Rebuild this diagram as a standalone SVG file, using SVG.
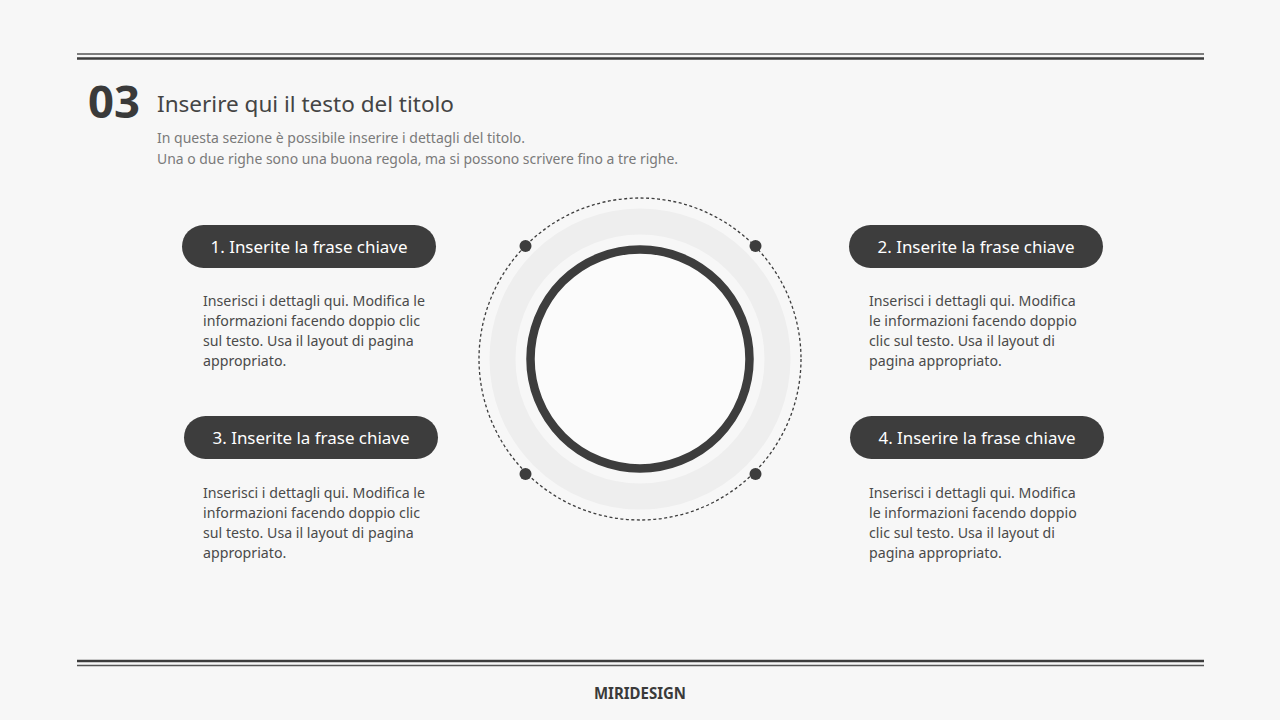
<svg xmlns="http://www.w3.org/2000/svg" width="1280" height="720" viewBox="0 0 1280 720">
<style>
.t{font-family:"Noto Sans","Liberation Sans",sans-serif}
.pill{fill:#3d3d3d}
.pt{font-family:"Noto Sans","Liberation Sans",sans-serif;font-size:16.5px;fill:#ffffff;text-anchor:middle}
.body{font-family:"Noto Sans","Liberation Sans",sans-serif;font-size:14.2px;fill:#4a4a4a}
.dot{fill:#3d3d3d}
</style>
<rect width="1280" height="720" fill="#f7f7f7"/>
<g id="frame">
<line x1="77" y1="54" x2="1204" y2="54" stroke="#555" stroke-width="1.5"/>
<line x1="77" y1="58.5" x2="1204" y2="58.5" stroke="#3c3c3c" stroke-width="2.5"/>
<line x1="77" y1="661" x2="1204" y2="661" stroke="#3c3c3c" stroke-width="2.5"/>
<line x1="77" y1="665.5" x2="1204" y2="665.5" stroke="#555" stroke-width="1.5"/>
</g>
<g id="header">
<text class="t" x="88" y="118" font-size="45" font-weight="bold" fill="#3a3a3a" textLength="52" lengthAdjust="spacingAndGlyphs">03</text>
<text class="t" x="157" y="112" font-size="22.5" fill="#444" textLength="297" lengthAdjust="spacingAndGlyphs">Inserire qui il testo del titolo</text>
<text class="t" x="157" y="143" font-size="14" fill="#7a7a7a" textLength="368" lengthAdjust="spacingAndGlyphs">In questa sezione è possibile inserire i dettagli del titolo.</text>
<text class="t" x="157" y="164" font-size="14" fill="#7a7a7a" textLength="521" lengthAdjust="spacingAndGlyphs">Una o due righe sono una buona regola, ma si possono scrivere fino a tre righe.</text>
</g>
<g id="center">
<circle cx="640" cy="359" r="137.5" fill="none" stroke="#eeeeee" stroke-width="26"/>
<circle cx="640" cy="359" r="161" fill="none" stroke="#3d3d3d" stroke-width="1.3" stroke-dasharray="3 2.5"/>
<circle cx="640" cy="359" r="109.5" fill="#fbfbfb" stroke="#3d3d3d" stroke-width="8.5"/>
</g>
<g id="connectors">
<circle class="dot" cx="525.5" cy="246" r="6"/>
<circle class="dot" cx="755.5" cy="246" r="6"/>
<circle class="dot" cx="525.5" cy="474" r="6"/>
<circle class="dot" cx="755.5" cy="474" r="6"/>
</g>
<g id="node1">
<rect class="pill" x="182" y="225" width="254" height="43" rx="21.5"/>
<text class="pt" x="309" y="252.5" textLength="197" lengthAdjust="spacingAndGlyphs">1. Inserite la frase chiave</text>
<text class="body" x="203" y="306">Inserisci i dettagli qui. Modifica le</text>
<text class="body" x="203" y="326">informazioni facendo doppio clic</text>
<text class="body" x="203" y="346">sul testo. Usa il layout di pagina</text>
<text class="body" x="203" y="366">appropriato.</text>
</g>
<g id="node2">
<rect class="pill" x="849" y="225" width="254" height="43" rx="21.5"/>
<text class="pt" x="976" y="252.5" textLength="197" lengthAdjust="spacingAndGlyphs">2. Inserite la frase chiave</text>
<text class="body" x="869" y="306">Inserisci i dettagli qui. Modifica</text>
<text class="body" x="869" y="326">le informazioni facendo doppio</text>
<text class="body" x="869" y="346">clic sul testo. Usa il layout di</text>
<text class="body" x="869" y="366">pagina appropriato.</text>
</g>
<g id="node3">
<rect class="pill" x="184" y="416" width="254" height="43" rx="21.5"/>
<text class="pt" x="311" y="443.5" textLength="197" lengthAdjust="spacingAndGlyphs">3. Inserite la frase chiave</text>
<text class="body" x="203" y="498">Inserisci i dettagli qui. Modifica le</text>
<text class="body" x="203" y="518">informazioni facendo doppio clic</text>
<text class="body" x="203" y="538">sul testo. Usa il layout di pagina</text>
<text class="body" x="203" y="558">appropriato.</text>
</g>
<g id="node4">
<rect class="pill" x="850" y="416" width="254" height="43" rx="21.5"/>
<text class="pt" x="977" y="443.5" textLength="197" lengthAdjust="spacingAndGlyphs">4. Inserire la frase chiave</text>
<text class="body" x="869" y="498">Inserisci i dettagli qui. Modifica</text>
<text class="body" x="869" y="518">le informazioni facendo doppio</text>
<text class="body" x="869" y="538">clic sul testo. Usa il layout di</text>
<text class="body" x="869" y="558">pagina appropriato.</text>
</g>
<g id="footer">
<text class="t" x="640" y="698.5" font-size="16.5" font-weight="bold" fill="#3a3a3a" text-anchor="middle" textLength="92" lengthAdjust="spacingAndGlyphs">MIRIDESIGN</text>
</g>
</svg>
